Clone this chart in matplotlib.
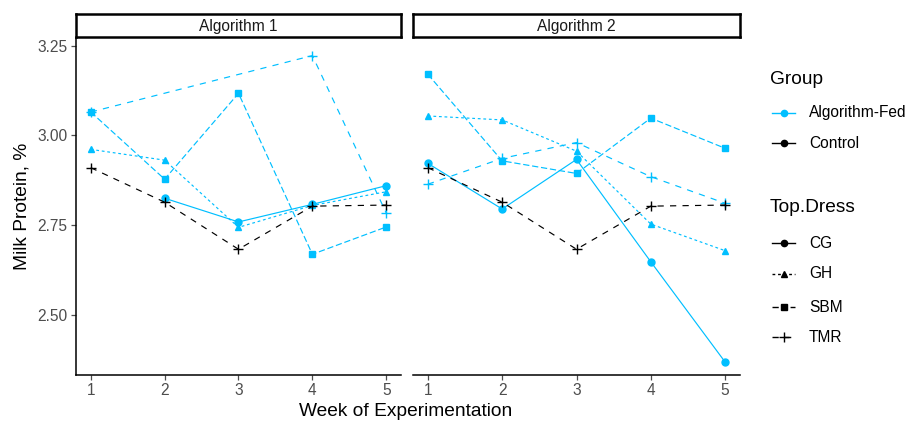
import numpy as np
import matplotlib
matplotlib.use("Agg")
import matplotlib.pyplot as plt
from matplotlib.lines import Line2D

plt.rcParams['font.family'] = ['Liberation Sans', 'DejaVu Sans']
plt.rcParams['lines.scale_dashes'] = False

weeks = [1, 2, 3, 4, 5]
panels = ["Algorithm 1", "Algorithm 2"]
nan = np.nan

# control (TMR only), same in both panels
control_tmr = [2.910, 2.814, 2.683, 2.803, 2.806]

# Algorithm-Fed, panel 1
alg1_cg = [nan, 2.825, 2.759, 2.808, 2.860]
alg1_gh = [2.961, 2.931, 2.744, 2.805, 2.843]
alg1_sbm = [3.065, 2.878, 3.117, 2.669, 2.745]
alg1_tmr = [3.065, nan, nan, 3.222, 2.784]

# Algorithm-Fed, panel 2
alg2_cg = [2.922, 2.795, 2.933, 2.648, 2.369]
alg2_gh = [3.054, 3.043, 2.956, 2.753, 2.679]
alg2_sbm = [3.170, 2.929, 2.894, 3.048, 2.964]
alg2_tmr = [2.864, 2.936, 2.980, 2.885, 2.811]

group_labels = ["Algorithm-Fed", "Control"]
dress_labels = ["CG", "GH", "SBM", "TMR"]

BLUE = "#00BFFF"
styles = {
    "CG": dict(marker="o", ls="-", ms=5),
    "GH": dict(marker="^", ls=(0, (2, 2)), ms=5),
    "SBM": dict(marker="s", ls=(0, (4.5, 2)), ms=4.6),
    "TMR": dict(marker="+", ls=(0, (4.5, 4.5)), ms=7.5, mew=1.0),
}

W, H = 916, 430
fig = plt.figure(figsize=(W / 100, H / 100), dpi=100)
FS = 11.2
TS = 13.8

def frac(x0, y0, x1, y1):
    return [x0 / W, 1 - y1 / H, (x1 - x0) / W, (y1 - y0) / H]

boxes = [(76, 38, 401, 375), (413, 38, 740, 375)]
data = [
    {"CG": alg1_cg, "GH": alg1_gh, "SBM": alg1_sbm, "TMR": alg1_tmr},
    {"CG": alg2_cg, "GH": alg2_gh, "SBM": alg2_sbm, "TMR": alg2_tmr},
]

def draw(ax, vals, color, st):
    x = np.array(weeks, dtype=float)
    y = np.array(vals, dtype=float)
    m = ~np.isnan(y)
    ax.plot(x[m], y[m], color=color, lw=0.85, markeredgecolor=color,
            markerfacecolor=color, **st)

for i, (box, series) in enumerate(zip(boxes, data)):
    ax = fig.add_axes(frac(*box))
    for key in dress_labels:
        draw(ax, series[key], BLUE, styles[key])
    draw(ax, control_tmr, "black", styles["TMR"])
    ax.set_xlim(0.8, 5.2)
    ax.set_ylim(2.333, 3.271)
    ax.set_xticks(weeks)
    ax.set_yticks([2.50, 2.75, 3.00, 3.25])
    ax.set_yticklabels(["2.50", "2.75", "3.00", "3.25"])
    for s in ["top", "right"]:
        ax.spines[s].set_visible(False)
    ax.spines["bottom"].set_linewidth(1.1)
    ax.spines["left"].set_linewidth(1.1)
    ax.tick_params(labelsize=FS, colors="#4D4D4D", length=3.5, width=0.9,
                   labelcolor="#4D4D4D", pad=2.5)
    if i == 1:
        ax.spines["left"].set_visible(False)
        ax.tick_params(axis="y", left=False, labelleft=False)
    # strip
    sx = fig.add_axes(frac(box[0], 14, box[2], 37))
    sx.set_xticks([])
    sx.set_yticks([])
    for s in sx.spines.values():
        s.set_linewidth(1.8)
    sx.text(0.5, 0.45, panels[i], ha="center", va="center", fontsize=FS,
            color="#1A1A1A", transform=sx.transAxes)

fig.text(406 / W, 1 - 412 / H, "Week of Experimentation", ha="center",
         va="center", fontsize=TS)
fig.text(22 / W, 1 - 206 / H, "Milk Protein, %", ha="center", va="center",
         rotation=90, fontsize=TS)

# legends drawn by hand
def key(y, color, st, ms=None):
    yf = 1 - y / H
    kw = {k: v for k, v in st.items() if k != "ms"}
    fig.add_artist(Line2D([772 / W, 795 / W], [yf, yf], transform=fig.transFigure,
                          color=color, lw=1.0, ls=kw.pop("ls"), marker=None))
    fig.add_artist(Line2D([783.5 / W], [yf], transform=fig.transFigure,
                          color=color, ls="none", markersize=ms or st["ms"] - 0.5,
                          markerfacecolor=color, markeredgecolor=color, **kw))

fig.text(770 / W, 1 - 80 / H, "Group", fontsize=TS, va="center", ha="left")
for lab, y, c in zip(group_labels, [113, 143], [BLUE, "black"]):
    key(y, c, dict(marker="o", ls="-", ms=5))
    fig.text(809 / W, 1 - y / H, lab, fontsize=FS, va="center", ha="left")

fig.text(770 / W, 1 - 208 / H, "Top.Dress", fontsize=TS, va="center", ha="left")
for lab, y in zip(dress_labels, [243, 274, 307, 337]):
    key(y, "black", styles[lab])
    fig.text(809 / W, 1 - y / H, lab, fontsize=FS, va="center", ha="left")

fig.savefig("out.png", dpi=100)
